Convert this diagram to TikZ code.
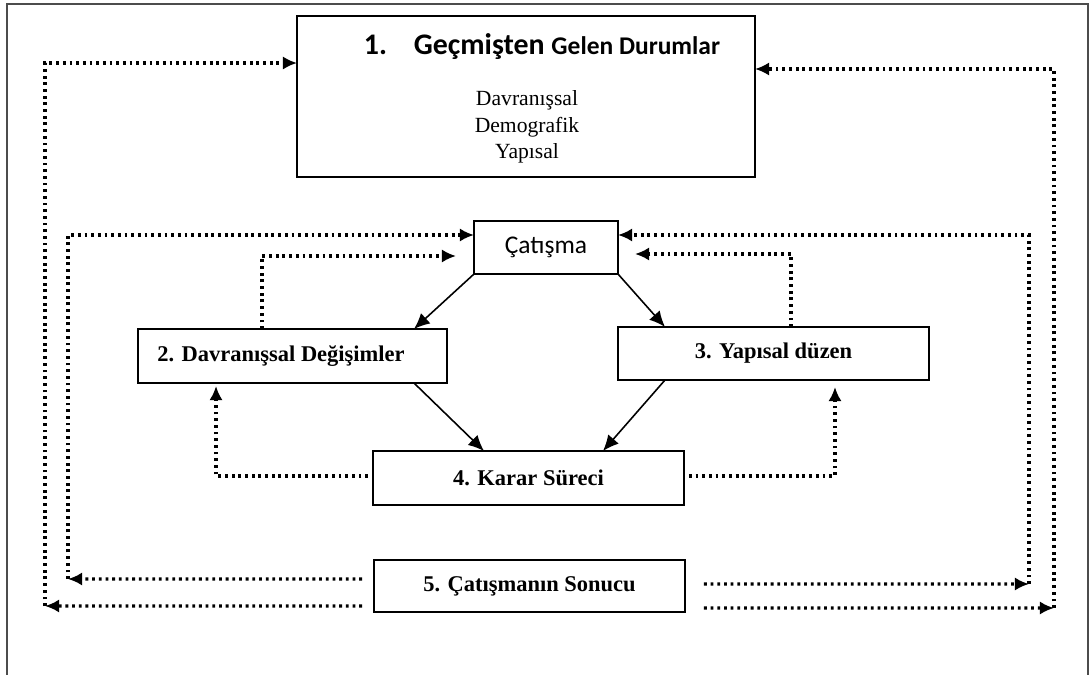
\documentclass[tikz,border=0pt]{standalone}
\usepackage{fontspec}
\setmainfont{Liberation Serif}
\newfontfamily\calibri{Carlito}
\usetikzlibrary{arrows.meta, positioning, calc}

\begin{document}
\begin{tikzpicture}[x=0.02cm, y=-0.02cm,
        box/.style={draw, line width=0.8pt, inner sep=0pt, outer sep=0pt},
        label/.style={font=\fontsize{12.8}{15}\selectfont\bfseries},
        solidarrow/.style={line width=0.9pt, -{Latex[length=9pt,width=8pt]}},
        dotarrow/.style={line width=1.8pt, dash pattern=on 1.6pt off 2.2pt, -{Latex[length=8pt,width=7.5pt]}}]
        \useasboundingbox (0,0) rectangle (1091,675);
        % Cerceve
        \draw[gray!60!black, line width=0.6pt] (7,675) -- (7,4) -- (1088,4) -- (1088,675);

        % Kutular
        \node[box, minimum width=9.16cm, minimum height=3.22cm] (durumlar) at (526,96.5) {};
        \node (baslik) at (542,47) {\calibri\bfseries\fontsize{17}{20}\selectfont 1.\hspace{0.9em}Geçmişten {\fontsize{14.5}{17}\selectfont Gelen Durumlar}};
        \node[align=center, font=\fontsize{12.3}{15}\selectfont] (alt) at (527,127) {Davranışsal\\Demografik\\Yapısal};

        \node[box, minimum width=2.88cm, minimum height=1.06cm, font=\calibri\fontsize{14.5}{17}\selectfont] (catisma) at (546,247.5) {Çatışma};
        \node[box, minimum width=6.18cm, minimum height=1.08cm] (davranis) at (292.5,356) {};
        \node[label] (davranisyazi) at (281,356) {2. Davranışsal Değişimler};
        \node[box, label, minimum width=6.22cm, minimum height=1.06cm] (yapisal) at (773.5,353.5) {3. Yapısal düzen};
        \node[box, label, minimum width=6.22cm, minimum height=1.08cm] (karar) at (528.5,478) {4. Karar Süreci};
        \node[box, label, minimum width=6.22cm, minimum height=1.04cm] (sonuc) at (529.5,586) {5. Çatışmanın Sonucu};

        % Kose noktalari
        \coordinate (solA) at (68,579);
        \coordinate (solB) at (45,606);
        \coordinate (sagA) at (1029,584);
        \coordinate (sagB) at (1054,608);

        % Duz oklar
        \draw[solidarrow] (catisma.south west) -- ([xshift=2.43cm]davranis.north);
        \draw[solidarrow] (catisma.south east) -- ([xshift=-2.17cm]yapisal.north);
        \draw[solidarrow] ([xshift=2.43cm]davranis.south) -- ([xshift=-0.89cm]karar.north);
        \draw[solidarrow] ([xshift=-2.17cm]yapisal.south) -- ([xshift=1.49cm]karar.north);

        % Noktali geri donusler
        \draw[dotarrow] ([xshift=-0.61cm]davranis.north) |- ([xshift=-0.36cm, yshift=-0.17cm]catisma.west);
        \draw[dotarrow] ([xshift=0.35cm]yapisal.north) |- ([xshift=0.34cm, yshift=-0.13cm]catisma.east);
        \draw[dotarrow] ([xshift=-0.1cm, yshift=0.04cm]karar.west) -| ([xshift=-1.53cm, yshift=-0.06cm]davranis.south);
        \draw[dotarrow] ([xshift=0.1cm, yshift=0.04cm]karar.east) -| ([xshift=1.23cm, yshift=-0.14cm]yapisal.south);

        % Sonuctan geri donusler
        \draw[dotarrow] ([xshift=-0.24cm, yshift=0.14cm]sonuc.west) -- (solA);
        \draw[dotarrow] (solA) |- ([yshift=0.25cm]catisma.west);
        \draw[dotarrow] ([xshift=-0.24cm, yshift=-0.4cm]sonuc.west) -- (solB);
        \draw[dotarrow] (solB) |- ([yshift=0.67cm]durumlar.west);
        \draw[dotarrow] ([xshift=0.38cm, yshift=0.04cm]sonuc.east) -- (sagA);
        \draw[dotarrow] (sagA) |- ([yshift=0.25cm]catisma.east);
        \draw[dotarrow] ([xshift=0.38cm, yshift=-0.44cm]sonuc.east) -- (sagB);
        \draw[dotarrow] (sagB) |- ([yshift=0.55cm]durumlar.east);
\end{tikzpicture}
\end{document}
